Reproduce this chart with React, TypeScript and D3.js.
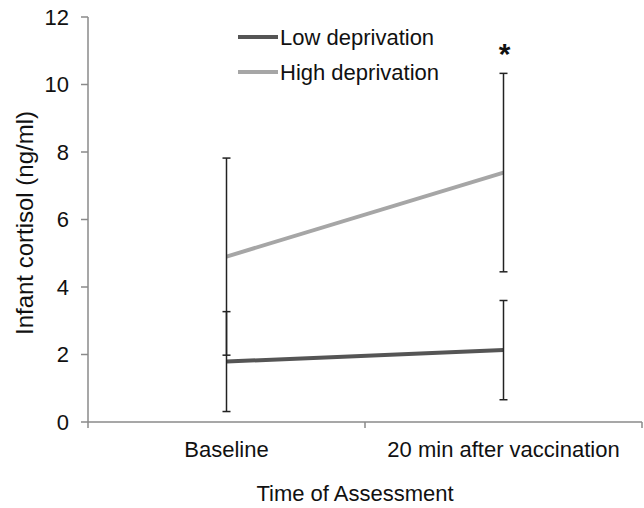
import React from "react";
import * as d3 from "d3";

const categories = ["Baseline", "20 min after vaccination"];
const lowMeans = [1.79, 2.13];
const lowErr = [1.48, 1.47];
const highMeans = [4.9, 7.39];
const highErr = [2.92, 2.94];
const yTicks = [0, 2, 4, 6, 8, 10, 12];
const seriesNames = ["Low deprivation", "High deprivation"];

const W = 644;
const H = 508;
const FONT = "'Liberation Sans', Arial, sans-serif";

export default function App() {
  const x = d3.scaleBand<string>().domain(categories).range([88, 642]);
  const y = d3.scaleLinear().domain([0, 12]).range([422, 17]);
  const cx = (c: string) => (x(c) as number) + x.bandwidth() / 2;

  const line = d3
    .line<[string, number]>()
    .x((d) => cx(d[0]))
    .y((d) => y(d[1]));

  const series = [
    { name: seriesNames[0], means: lowMeans, errs: lowErr, color: "#555555" },
    { name: seriesNames[1], means: highMeans, errs: highErr, color: "#a6a6a6" },
  ];

  return (
    <svg width={W} height={H} style={{ position: "absolute", left: 0, top: 0, background: "#fff" }} fontFamily={FONT}>
      {/* y axis */}
      <line x1={88} x2={88} y1={y(12)} y2={y(0)} stroke="#8a8a8a" strokeWidth={1.5} />
      {yTicks.map((t) => (
        <g key={t}>
          <line x1={81} x2={88} y1={y(t)} y2={y(t)} stroke="#8a8a8a" strokeWidth={1.5} />
          <text x={69} y={y(t)} dy="0.35em" textAnchor="end" fontSize={22} fill="#111">
            {t}
          </text>
        </g>
      ))}
      {/* x axis */}
      <line x1={88} x2={642} y1={y(0)} y2={y(0)} stroke="#8a8a8a" strokeWidth={1.5} />
      {[88, 88 + x.bandwidth(), 642].map((p, i) => (
        <line key={i} x1={p} x2={p} y1={y(0)} y2={y(0) + 6} stroke="#8a8a8a" strokeWidth={1.5} />
      ))}
      {categories.map((c) => (
        <text key={c} x={cx(c)} y={457} textAnchor="middle" fontSize={22} fill="#111">
          {c}
        </text>
      ))}
      <text x={355} y={501} textAnchor="middle" fontSize={22} fill="#111">
        Time of Assessment
      </text>
      <text
        transform={`translate(33, 223) rotate(-90)`}
        textAnchor="middle"
        fontSize={24}
        fill="#111"
      >
        Infant cortisol (ng/ml)
      </text>

      {/* lines */}
      {series.map((s) => (
        <path
          key={s.name}
          d={line(categories.map((c, i) => [c, s.means[i]] as [string, number])) || ""}
          fill="none"
          stroke={s.color}
          strokeWidth={4}
        />
      ))}
      {/* error bars */}
      {series.map((s) =>
        categories.map((c, i) => {
          const xc = cx(c);
          const top = y(s.means[i] + s.errs[i]);
          const bot = y(s.means[i] - s.errs[i]);
          return (
            <g key={s.name + c} stroke="#222" strokeWidth={1.5}>
              <line x1={xc} x2={xc} y1={top} y2={bot} />
              <line x1={xc - 4} x2={xc + 4} y1={top} y2={top} />
              <line x1={xc - 4} x2={xc + 4} y1={bot} y2={bot} />
            </g>
          );
        })
      )}

      {/* legend */}
      {series.map((s, i) => (
        <g key={s.name}>
          <line x1={238} x2={278} y1={37 + i * 35} y2={37 + i * 35} stroke={s.color} strokeWidth={4} />
          <text x={280} y={37 + i * 35} dy="0.35em" fontSize={22} fill="#111">
            {s.name}
          </text>
        </g>
      ))}

      {/* significance */}
      <text x={cx(categories[1]) + 1} y={64} textAnchor="middle" fontSize={30} fontWeight="bold" fill="#111">
        *
      </text>
    </svg>
  );
}
